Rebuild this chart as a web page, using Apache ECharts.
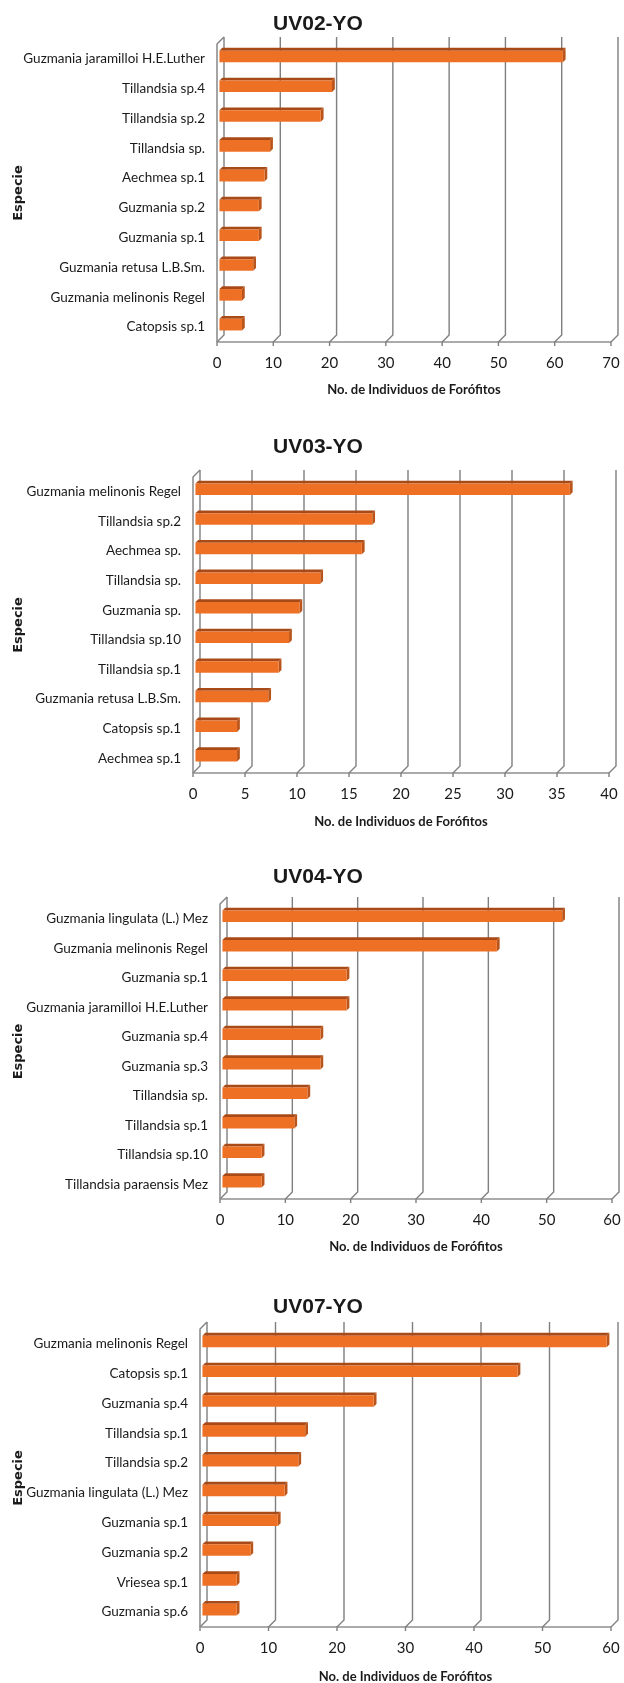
<!DOCTYPE html>
<html>
<head>
<meta charset="utf-8">
<script src="https://cdn.jsdelivr.net/npm/echarts@6/dist/echarts.min.js"></script>
<style>
  html, body { margin: 0; padding: 0; background: #ffffff; }
  #chart { width: 624px; height: 1683px; }
</style>
</head>
<body>
<div id="chart"></div>
<script>
// Bromeliad epiphytes counted on phorophytes, one panel per sampling unit
const titles = ['UV02-YO', 'UV03-YO', 'UV04-YO', 'UV07-YO'];

const species1 = ['Guzmania jaramilloi H.E.Luther', 'Tillandsia sp.4', 'Tillandsia sp.2', 'Tillandsia sp.',
  'Aechmea sp.1', 'Guzmania sp.2', 'Guzmania sp.1', 'Guzmania retusa L.B.Sm.', 'Guzmania melinonis Regel', 'Catopsis sp.1'];
const counts1 = [61, 20, 18, 9, 8, 7, 7, 6, 4, 4];
const ticks1 = [0, 10, 20, 30, 40, 50, 60, 70];

const species2 = ['Guzmania melinonis Regel', 'Tillandsia sp.2', 'Aechmea sp.', 'Tillandsia sp.', 'Guzmania sp.',
  'Tillandsia sp.10', 'Tillandsia sp.1', 'Guzmania retusa L.B.Sm.', 'Catopsis sp.1', 'Aechmea sp.1'];
const counts2 = [36, 17, 16, 12, 10, 9, 8, 7, 4, 4];
const ticks2 = [0, 5, 10, 15, 20, 25, 30, 35, 40];

const species3 = ['Guzmania lingulata (L.) Mez', 'Guzmania melinonis Regel', 'Guzmania sp.1', 'Guzmania jaramilloi H.E.Luther',
  'Guzmania sp.4', 'Guzmania sp.3', 'Tillandsia sp.', 'Tillandsia sp.1', 'Tillandsia sp.10', 'Tillandsia paraensis Mez'];
const counts3 = [52, 42, 19, 19, 15, 15, 13, 11, 6, 6];
const ticks3 = [0, 10, 20, 30, 40, 50, 60];

const species4 = ['Guzmania melinonis Regel', 'Catopsis sp.1', 'Guzmania sp.4', 'Tillandsia sp.1', 'Tillandsia sp.2',
  'Guzmania lingulata (L.) Mez', 'Guzmania sp.1', 'Guzmania sp.2', 'Vriesea sp.1', 'Guzmania sp.6'];
const counts4 = [59, 46, 25, 15, 14, 12, 11, 7, 5, 5];
const ticks4 = [0, 10, 20, 30, 40, 50, 60];

const xAxisTitle = 'No. de Individuos de Forófitos';
const yAxisTitle = 'Especie';

// Front plane of each panel's plot box (px)
const boxes = [
  { left: 217, top: 44,   width: 394, height: 298, titleY: 24,   nameY: 390 },
  { left: 193, top: 477,  width: 416, height: 296, titleY: 447,  nameY: 822 },
  { left: 220, top: 904,  width: 392, height: 295, titleY: 877,  nameY: 1247 },
  { left: 200, top: 1329, width: 411, height: 298, titleY: 1307, nameY: 1677 }
];

const panels = [
  { species: species1, counts: counts1, ticks: ticks1 },
  { species: species2, counts: counts2, ticks: ticks2 },
  { species: species3, counts: counts3, ticks: ticks3 },
  { species: species4, counts: counts4, ticks: ticks4 }
];

// Depth of the pseudo-3D box: back wall sits up and to the right
const DX = 7, DY = -7;
const GRID_COLOR = '#7f7f7f';
const FACE = '#ee7024', TOP_FACE = '#a84a17', SIDE_FACE = '#b9551b';
const LABEL_FONT = "Lato, 'Liberation Sans', sans-serif";

function renderFrame(params, api) {
  const v = api.value(0);
  const cs = params.coordSys;
  const x = api.coord([v, 0])[0];
  const yTop = cs.y, yF = cs.y + cs.height;
  const style = { stroke: GRID_COLOR, lineWidth: 1.4, fill: null };
  const children = [{
    type: 'polyline',
    shape: { points: [[x + DX, yTop + DY], [x + DX, yF + DY], [x, yF], [x, yF + 4]] },
    style: style
  }];
  if (v === 0) {
    children.push({
      type: 'polyline',
      shape: { points: [[x + DX, yTop + DY], [x, yTop], [x, yF]] },
      style: style
    });
    children.push({
      type: 'line',
      shape: { x1: x, y1: yF, x2: cs.x + cs.width, y2: yF },
      style: { stroke: '#8f8f8f', lineWidth: 1.4 }
    });
  }
  return { type: 'group', children: children };
}

function renderBar(params, api) {
  const v = api.value(0), idx = api.value(1);
  const a = api.coord([0, idx]), b = api.coord([v, idx]);
  const band = api.size([0, 1])[1];
  const h = band * 0.39;
  const fx = DX * 0.35, fy = DY * 0.35;
  const ox = DX * 0.4, oy = DY * 0.4;
  const x0 = a[0] + fx, x1 = b[0] + fx;
  const yT = a[1] + fy - h / 2, yB = yT + h;
  return {
    type: 'group',
    children: [
      { type: 'polygon', shape: { points: [[x0, yT], [x1, yT], [x1 + ox, yT + oy], [x0 + ox, yT + oy]] },
        style: { fill: TOP_FACE } },
      { type: 'polygon', shape: { points: [[x1, yT], [x1 + ox, yT + oy], [x1 + ox, yB + oy], [x1, yB]] },
        style: { fill: SIDE_FACE } },
      { type: 'rect', shape: { x: x0, y: yT, width: x1 - x0, height: h },
        style: { fill: FACE } }
    ]
  };
}

const grids = [], xAxes = [], yAxes = [], series = [], graphics = [];

panels.forEach(function (p, i) {
  const box = boxes[i];
  grids.push({ left: box.left, top: box.top, width: box.width, height: box.height });
  xAxes.push({
    gridIndex: i, type: 'value',
    min: p.ticks[0], max: p.ticks[p.ticks.length - 1], interval: p.ticks[1] - p.ticks[0],
    axisLine: { show: false }, axisTick: { show: false }, splitLine: { show: false },
    axisLabel: { margin: 14, fontSize: 15, fontFamily: LABEL_FONT, color: '#1a1a1a' }
  });
  yAxes.push({
    gridIndex: i, type: 'category', data: p.species, inverse: true,
    axisLine: { show: false }, axisTick: { show: false }, splitLine: { show: false },
    axisLabel: { margin: 12, fontSize: 13.5, fontFamily: LABEL_FONT, color: '#1a1a1a' }
  });
  series.push({
    type: 'custom', xAxisIndex: i, yAxisIndex: i, z: 1, silent: true,
    renderItem: renderFrame,
    data: p.ticks.map(function (t) { return [t, 0]; })
  });
  series.push({
    type: 'custom', xAxisIndex: i, yAxisIndex: i, z: 2,
    renderItem: renderBar,
    encode: { x: 0, y: 1 },
    data: p.counts.map(function (c, j) { return [c, j]; })
  });
  graphics.push({
    type: 'text', x: 318, y: box.titleY,
    style: { text: titles[i], font: "bold 21px 'Liberation Sans', Arial, sans-serif",
             fill: '#1a1a1a', align: 'center', verticalAlign: 'middle' }
  });
  graphics.push({
    type: 'text', x: box.left + box.width / 2, y: box.nameY,
    style: { text: xAxisTitle, font: "bold 13px " + LABEL_FONT,
             fill: '#1a1a1a', align: 'center', verticalAlign: 'middle' }
  });
  graphics.push({
    type: 'text', x: 19, y: box.top + box.height / 2, rotation: Math.PI / 2,
    style: { text: yAxisTitle, font: "bold 13px 'DejaVu Sans', sans-serif",
             fill: '#1a1a1a', align: 'center', verticalAlign: 'middle' }
  });
});

const chart = echarts.init(document.getElementById('chart'), null, { renderer: 'canvas' });
chart.setOption({
  backgroundColor: '#ffffff',
  animation: false,
  grid: grids,
  xAxis: xAxes,
  yAxis: yAxes,
  series: series,
  graphic: graphics
});
</script>
</body>
</html>
